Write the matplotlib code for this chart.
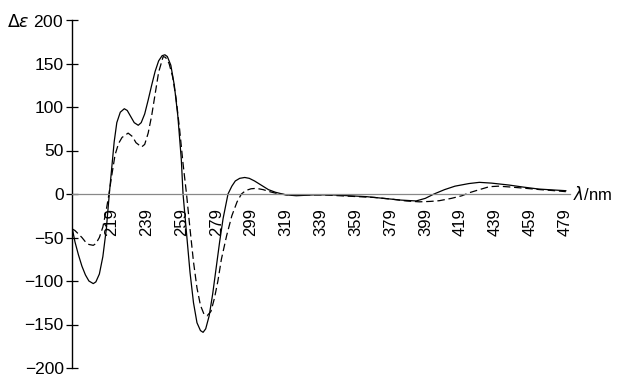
import matplotlib.pyplot as plt

plt.rcParams["font.family"] = ["Liberation Sans", "DejaVu Sans"]
plt.rcParams["mathtext.fontset"] = "dejavusans"

# CD spectrum, solid trace
solid_nm = [196.3, 198, 200, 202, 204, 206, 208.5, 210, 212, 214, 216, 217.7,
            219, 220.5, 222, 224, 226.3, 228, 230, 232, 234.3, 236, 238, 240,
            242, 244, 246, 248, 249.6, 251, 253, 255, 257, 259, 260, 262, 264,
            266, 268, 270, 271.5, 273, 275, 277, 279, 281, 283, 285.8, 288,
            290, 292.5, 295.4, 298, 301, 305, 309, 313, 319, 325, 335, 345,
            355, 365, 375, 385, 393.7, 399, 404, 410, 416, 424, 430, 437, 447,
            455, 464, 472, 479.6]
solid_de = [-38, -55, -70, -83, -93, -100, -103, -101, -92, -72, -40, 0,
            28, 60, 82, 94, 98, 96, 89, 82, 79, 82, 92, 108,
            125, 141, 153, 159, 160, 158, 148, 125, 90, 40, 0, -45, -90,
            -125, -148, -157, -159, -155, -140, -115, -85, -55, -28, 0, 9,
            15, 18, 19, 18, 15, 10, 5, 2, -1, -2, -1, -1,
            -2, -3, -5, -7, -8, -5, 0, 5, 9, 12, 13.4, 12.5, 10.3,
            8, 5.7, 4.7, 3.8]

# CD spectrum, dashed trace
dashed_nm = [196.3, 198, 200, 202, 204, 206, 208.5, 210, 212, 214, 216, 217.5,
             219, 221, 223, 225, 228.5, 231, 233, 236.2, 238, 240, 242, 244,
             246, 248.6, 250, 252, 254, 256, 258, 260, 262, 264, 266, 268,
             270, 272, 273.8, 276, 278, 280, 282, 285, 288, 291, 293.5, 296,
             299, 302, 306, 310, 315, 320, 330, 340, 350, 360, 370, 380, 388,
             395.6, 402, 407, 414, 420, 424.3, 430, 435.7, 441, 448, 456.7,
             465, 472, 479.6]
dashed_de = [-40, -42, -46, -50, -55, -58, -59, -57, -50, -38, -18, 0,
             20, 45, 58, 65, 70, 66, 59, 54, 57, 70, 90, 115,
             140, 158, 157, 150, 135, 110, 75, 35, 0, -40, -78, -108,
             -128, -138, -140, -135, -120, -100, -75, -48, -25, -9, 0, 4,
             6, 6.5, 5, 2.5, 0, -1, -1, -1, -2, -3, -4, -6, -8,
             -9, -8.5, -7.7, -5, -2, 1.5, 5, 8.4, 9, 8, 6.5,
             5, 4, 2.7]

x_ticks = [219, 239, 259, 279, 299, 319, 339, 359, 379, 399, 419, 439, 459, 479]
y_ticks = [-200, -150, -100, -50, 0, 50, 100, 150, 200]

fig = plt.figure(figsize=(6.21, 3.74), dpi=100)
ax = fig.add_axes([72 / 621, 6 / 374, 498 / 621, 348 / 374])

ax.plot(solid_nm, solid_de, color="black", linewidth=0.9)
ax.plot(dashed_nm, dashed_de, color="black", linewidth=0.9,
        linestyle=(0, (6, 3)))

ax.set_xlim(196.3, 482)
ax.set_ylim(-200, 200)

ax.spines["top"].set_visible(False)
ax.spines["right"].set_visible(False)
ax.spines["bottom"].set_position(("data", 0))
ax.spines["bottom"].set_color("#888888")
ax.spines["bottom"].set_linewidth(0.9)
ax.spines["left"].set_linewidth(1.0)

ax.set_xticks(x_ticks)
ax.set_xticklabels([str(t) for t in x_ticks], rotation=90, fontsize=12,
                   va="top")
ax.tick_params(axis="x", length=0, pad=10)

ax.set_yticks(y_ticks)
y_labels = [f"\u2212{abs(t)}" if t < 0 else str(t) for t in y_ticks]
y_labels[-1] = r"$\Delta\varepsilon$ 200"
ax.set_yticklabels(y_labels, fontsize=12.5)
ax.tick_params(axis="y", direction="inout", length=8, width=0.9, pad=2)

ax.text(484, 0, r"$\lambda$/nm", fontsize=12, va="center", ha="left",
        clip_on=False)

fig.savefig("out.png", dpi=100)
